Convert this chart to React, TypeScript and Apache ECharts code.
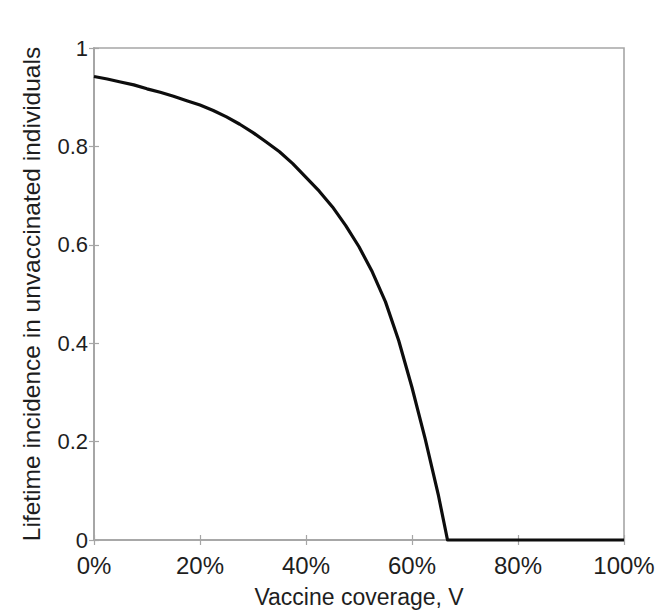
import React, { useEffect, useRef } from "react";
import * as echarts from "echarts";

const coverage = [0, 2.5, 5, 7.5, 10, 12.5, 15, 17.5, 20, 22.5, 25, 27.5, 30, 32.5, 35, 37.5, 40, 42.5, 45, 47.5, 50, 52.5, 55, 57.5, 60, 62.5, 65, 66, 66.7, 70, 80, 90, 100];
const incidence = [0.942, 0.937, 0.931, 0.925, 0.917, 0.91, 0.902, 0.893, 0.884, 0.873, 0.86, 0.845, 0.828, 0.809, 0.789, 0.765, 0.737, 0.709, 0.677, 0.639, 0.596, 0.545, 0.484, 0.405, 0.31, 0.205, 0.09, 0.037, 0, 0, 0, 0, 0];
const xTicks = [0, 20, 40, 60, 80, 100];
const yTicks = [0, 0.2, 0.4, 0.6, 0.8, 1];
const xTitle = "Vaccine coverage, V";
const yTitle = "Lifetime incidence in unvaccinated individuals";

export default function App() {
  const ref = useRef<HTMLDivElement>(null);
  useEffect(() => {
    const chart = echarts.init(ref.current!, null, { renderer: "svg" });
    const font = "Liberation Sans, Arial, sans-serif";
    const axisGray = "#a6a6a6";
    const tick = { show: true, inside: true, length: 5, lineStyle: { color: axisGray, width: 1.2 } };
    const line = { show: true, lineStyle: { color: axisGray, width: 1.6 } };
    chart.setOption({
      animation: false,
      backgroundColor: "#ffffff",
      grid: { left: 94, right: 35, top: 48, bottom: 73, show: true, borderColor: axisGray, borderWidth: 1.6 },
      xAxis: [
        {
          type: "value", min: 0, max: 100, interval: 20, position: "bottom",
          axisLine: line, axisTick: tick, splitLine: { show: false },
          axisLabel: { formatter: (v: number) => (xTicks.includes(v) ? v + "%" : ""), color: "#1e1e1e", fontSize: 24, lineHeight: 24, fontFamily: font, margin: 13 },
          name: xTitle, nameLocation: "middle", nameGap: 45,
          nameTextStyle: { color: "#1e1e1e", fontSize: 23, fontFamily: font },
        },
        {
          type: "value", min: 0, max: 100, interval: 20, position: "top",
          axisLine: line, axisTick: tick, splitLine: { show: false }, axisLabel: { show: false },
        },
      ],
      yAxis: [
        {
          type: "value", min: 0, max: 1, interval: 0.2, position: "left",
          axisLine: line, axisTick: tick, splitLine: { show: false },
          axisLabel: { formatter: (v: number) => { const t = yTicks.find((y) => Math.abs(y - v) < 1e-9); return t === undefined ? "" : String(+t.toFixed(1)); }, color: "#1e1e1e", fontSize: 22, lineHeight: 18, fontFamily: font, margin: 6 },
          name: yTitle, nameLocation: "middle", nameGap: 50, nameRotate: 90,
          nameTextStyle: { color: "#1e1e1e", fontSize: 24.5, fontFamily: font },
        },
        {
          type: "value", min: 0, max: 1, interval: 0.2, position: "right",
          axisLine: line, axisTick: tick, splitLine: { show: false }, axisLabel: { show: false },
        },
      ],
      series: [
        {
          type: "line",
          data: coverage.map((c, i) => [c, incidence[i]]),
          smooth: false,
          showSymbol: false,
          lineStyle: { color: "#0d0d0d", width: 3.2, join: "round" },
          clip: false,
        },
      ],
    });
    return () => chart.dispose();
  }, []);
  return <div ref={ref} style={{ width: 659, height: 613, position: "absolute", left: 0, top: 0 }} />;
}
